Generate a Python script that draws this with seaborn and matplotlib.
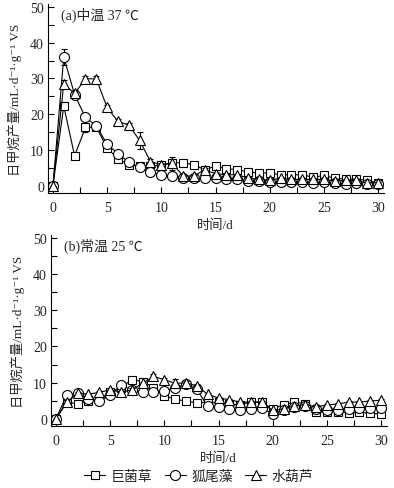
import numpy as np
import pandas as pd
import seaborn as sns
import matplotlib
matplotlib.use("Agg")
import matplotlib.pyplot as plt
from matplotlib.ticker import MultipleLocator
from matplotlib.lines import Line2D

# ---------------- data ----------------
days = list(range(0, 31))
series_names = ["巨菌草", "狐尾藻", "水葫芦"]
panel_titles = ["(a)中温 37 ℃", "(b)常温 25 ℃"]

sq_a = [0, 22.3, 8.4, 16.3, 16.5, 10.5, 7.6, 5.9, 5.5, 5.5, 5.8, 6.5, 6.4, 5.9, 4.5, 5.5,
        4.8, 4.5, 3.9, 3.6, 3.6, 3.1, 3.1, 3.1, 2.4, 2.9, 2.1, 1.9, 1.9, 1.5, 0.8]
ci_a = [0, 36.0, 25.5, 19.1, 16.8, 11.6, 9.0, 6.6, 5.2, 3.8, 3.1, 2.7, 2.3, 2.2, 2.2, 2.2,
        1.8, 1.8, 1.4, 1.3, 1.2, 1.0, 1.0, 1.0, 0.8, 1.0, 0.8, 0.6, 0.8, 0.4, 0.4]
tr_a = [0, 28.5, 25.8, 29.9, 29.9, 21.9, 18.0, 17.0, 12.7, 6.8, 5.9, 6.3, 2.8, 2.7, 4.5, 3.4,
        3.1, 3.1, 2.2, 1.8, 1.5, 2.2, 1.8, 1.8, 1.8, 1.8, 1.4, 1.5, 1.5, 0.8, 0.9]

sq_b = [0, 4.5, 4.2, 5.0, 5.4, 7.3, 8.6, 10.8, 10.3, 8.6, 6.4, 5.4, 4.9, 4.4, 4.6, 4.5,
        4.1, 3.8, 4.7, 4.5, 2.7, 3.9, 4.6, 4.2, 2.0, 1.8, 2.0, 1.5, 1.8, 1.5, 1.3]
ci_b = [0, 6.5, 7.1, 5.5, 4.9, 6.5, 9.3, 8.0, 7.3, 7.3, 7.8, 8.5, 9.6, 8.2, 3.4, 3.3,
        2.7, 2.3, 2.7, 2.9, 1.4, 2.5, 3.3, 3.6, 2.7, 2.4, 2.4, 2.7, 2.9, 2.9, 2.9]
tr_b = [0, 4.7, 7.0, 6.8, 7.3, 8.0, 7.4, 8.0, 9.8, 11.7, 10.8, 9.8, 9.9, 9.1, 6.8, 5.7,
        5.3, 4.6, 4.6, 4.6, 2.3, 2.7, 3.6, 3.9, 3.3, 3.8, 4.1, 4.6, 4.6, 4.9, 5.1]

# error bar half-widths
err_sq_a = [0, 1.0, 0.6, 1.2, 0.6, 0.5, 0.4, 0.3, 0.3, 0.3, 0.4, 0.4, 0.4, 0.3, 0.3, 0.4,
            0.3, 0.3, 0.3, 0.2, 0.2, 0.2, 0.2, 0.2, 0.2, 0.2, 0.2, 0.2, 0.2, 0.2, 0.2]
err_ci_a = [0, 2.2, 0.8, 0.6, 0.5, 0.5, 0.4, 0.3, 0.3, 0.3, 0.3, 0.3, 0.3, 0.2, 0.2, 0.2,
            0.2, 0.2, 0.2, 0.2, 0.2, 0.2, 0.2, 0.2, 0.2, 0.2, 0.2, 0.2, 0.2, 0.2, 0.2]
err_tr_a = [0, 1.2, 1.0, 0.8, 0.8, 0.8, 0.6, 0.6, 2.4, 0.8, 0.6, 1.8, 0.4, 0.4, 0.6, 0.4,
            0.3, 0.3, 0.3, 0.3, 0.3, 0.3, 0.3, 0.3, 0.3, 0.3, 0.3, 0.3, 0.3, 0.3, 0.3]
err_sq_b = [0, 0.3, 0.4, 0.3, 0.3, 0.4, 0.5, 0.6, 0.6, 0.5, 0.4, 0.4, 0.3, 0.3, 0.3, 0.3,
            0.3, 0.3, 0.4, 0.3, 0.3, 0.3, 0.4, 0.3, 0.3, 0.3, 0.3, 0.3, 0.3, 0.3, 0.3]
err_ci_b = [0, 0.3, 0.3, 0.3, 0.3, 0.3, 0.4, 0.4, 0.3, 0.3, 0.3, 0.4, 0.4, 0.4, 0.3, 0.3,
            0.3, 0.3, 0.3, 0.3, 0.3, 0.3, 0.3, 0.3, 0.3, 0.3, 0.3, 0.3, 0.3, 0.3, 0.3]
err_tr_b = [0, 0.4, 0.4, 0.4, 0.4, 0.4, 0.4, 0.5, 0.5, 0.8, 0.6, 1.2, 0.6, 0.5, 0.4, 0.4,
            0.3, 0.3, 0.3, 0.3, 0.3, 0.3, 0.3, 0.3, 0.3, 0.3, 0.3, 0.3, 0.3, 0.3, 0.4]

panels = [
    [(sq_a, err_sq_a), (ci_a, err_ci_a), (tr_a, err_tr_a)],
    [(sq_b, err_sq_b), (ci_b, err_ci_b), (tr_b, err_tr_b)],
]
markers = ["s", "o", "^"]
msizes = [6.0, 7.2, 7.6]

# ---------------- style ----------------
sns.set_style("ticks")
cjk = ["Liberation Serif", "Noto Sans CJK SC", "DejaVu Sans"]
plt.rcParams["font.family"] = cjk

W, H = 394, 489
fig = plt.figure(figsize=(W / 100, H / 100), dpi=100)

# axes rectangles in pixels: (left, top, right, bottom)
rects = [(47.5, 5, 383.5, 194), (50.5, 236, 386.5, 427)]

axes = []
for i, (l, t, r, b) in enumerate(rects):
    ax = fig.add_axes([l / W, 1 - b / H, (r - l) / W, (b - t) / H])
    axes.append(ax)
    for j, ((vals, errs), name) in enumerate(zip(panels[i], series_names)):
        ax.errorbar(days, vals, yerr=errs, fmt="none", ecolor="black",
                    elinewidth=0.8, capsize=2.5, capthick=0.8, zorder=2 + j)
        sns.lineplot(x=days, y=vals, ax=ax, color="black", linewidth=0.8,
                     marker=markers[j], markersize=msizes[j],
                     markerfacecolor="white", markeredgecolor="black",
                     markeredgewidth=0.8, label=name, zorder=3 + j, legend=False)
    ax.set_xlim(-0.5, 30.5)
    ax.set_ylim(-2, 50.8)
    ax.xaxis.set_major_locator(MultipleLocator(5))
    ax.xaxis.set_minor_locator(MultipleLocator(2.5))
    ax.yaxis.set_major_locator(MultipleLocator(10))
    ax.yaxis.set_minor_locator(MultipleLocator(5))
    ax.tick_params(which="both", direction="in", width=0.8, color="black",
                   labelsize=10)
    ax.tick_params(axis="x", which="both", pad=6)
    ax.tick_params(axis="y", which="both", pad=2.5)
    ax.tick_params(which="both", length=4)
    for s in ["top", "right"]:
        ax.spines[s].set_visible(False)
    for s in ["left", "bottom"]:
        ax.spines[s].set_linewidth(0.8)
        ax.spines[s].set_color("black")
    for lab in ax.get_xticklabels() + ax.get_yticklabels():
        lab.set_fontfamily("Liberation Serif")
    ax.set_xlabel("时间/d", family=cjk, fontsize=9.5, labelpad=3)
    ax.set_ylabel("日甲烷产量/mL·d⁻¹·g⁻¹ VS", family=cjk, fontsize=9.5, labelpad=6)
    ax.text(0.04, 0.985, panel_titles[i], transform=ax.transAxes, ha="left", va="top",
            family=cjk, fontsize=10)

handles = [Line2D([], [], color="black", linewidth=0.8, marker=m, markersize=ms,
                  markerfacecolor="white", markeredgecolor="black", markeredgewidth=0.8)
           for m, ms in zip(markers, msizes)]
fig.legend(handles, series_names, loc="center", bbox_to_anchor=(0.505, 1 - 477 / H),
           ncol=3, frameon=False, handlelength=1.5, handletextpad=0.4,
           columnspacing=0.9, prop={"family": cjk, "size": 10})

fig.savefig("out.png", dpi=100)
